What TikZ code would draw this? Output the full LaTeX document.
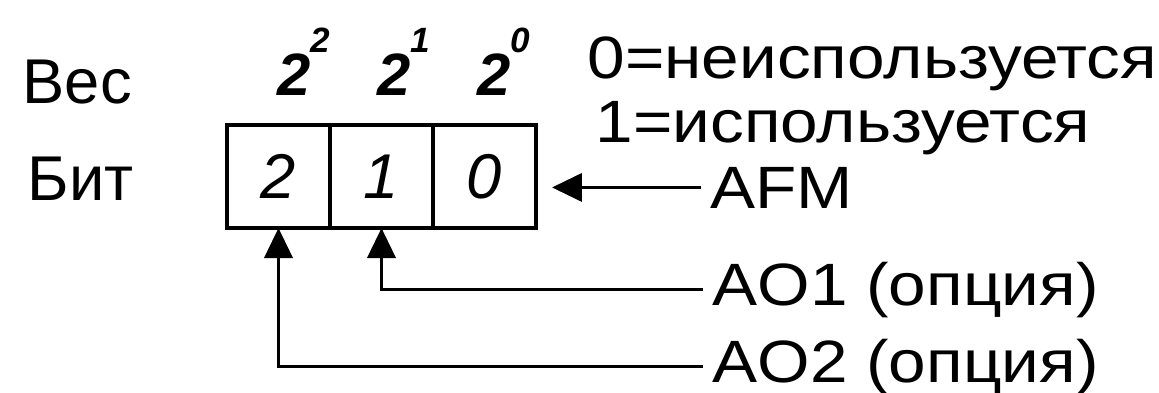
\documentclass[tikz,border=0pt]{standalone}
\usepackage{fontspec}
\setmainfont{Liberation Sans}
\newfontfamily\widefont[FakeStretch=1.13]{Liberation Sans}
\usetikzlibrary{positioning,arrows.meta}
\newcommand{\weight}[1]{{\bfseries\itshape 2\raisebox{12pt}{\fontsize{10}{10}\selectfont #1}}}

\begin{document}
\begin{tikzpicture}[
  cell/.style={draw, line width=1.3pt, minimum width=1.03cm, minimum height=1.03cm, inner sep=0pt, outer sep=0pt, font=\fontsize{18}{18}\selectfont\itshape},
  lbl/.style={inner sep=0pt, anchor=base west, font=\fontsize{18}{18}\selectfont},
  wt/.style={inner sep=0pt, anchor=base west, font=\fontsize{17}{17}\selectfont},
  note/.style={inner sep=0pt, anchor=base west, font=\fontsize{17}{17}\selectfont\widefont},
  src/.style={inner xsep=0.09cm, inner ysep=0pt, anchor=base west, font=\fontsize{17}{17}\selectfont\widefont},
  arr/.style={-{Triangle[length=3mm, width=2.8mm]}, line width=1.1pt}
]
  \useasboundingbox (0,0) rectangle (11.59,3.92);
  % row names
  \node[lbl] (ves) at (0.22,2.89) {Вес};
  \node[lbl] (bit) at (0.27,1.92) {Бит};
  % bit cells
  \node[cell] (b2) at (2.785,2.155) {2};
  \node[cell, right=0pt of b2] (b1) {1};
  \node[cell, right=0pt of b1] (b0) {0};
  % weights
  \node[wt] (w2) at (2.77,2.97) {\weight{2}};
  \node[wt] (w1) at (3.77,2.97) {\weight{1}};
  \node[wt] (w0) at (4.77,2.97) {\weight{0}};
  % legend
  \node[note] (use0) at (5.87,3.14) {0=неиспользуется};
  \node[note] (use1) at (5.95,2.50) {1=используется};
  % sources
  \node[src] (afm) at (7.01,1.84) {AFM};
  \node[src] (ao1) at (7.03,0.87) {AO1 (опция)};
  \node[src] (ao2) at (7.03,0.10) {AO2 (опция)};
  \coordinate (afmtip) at (5.52,2.10);
  \draw[arr] (afm.west) -- (afm.west -| afmtip);
  \draw[arr] (ao1.west) -| (b1.south);
  \draw[arr] (ao2.west) -| (b2.south);
\end{tikzpicture}
\end{document}
